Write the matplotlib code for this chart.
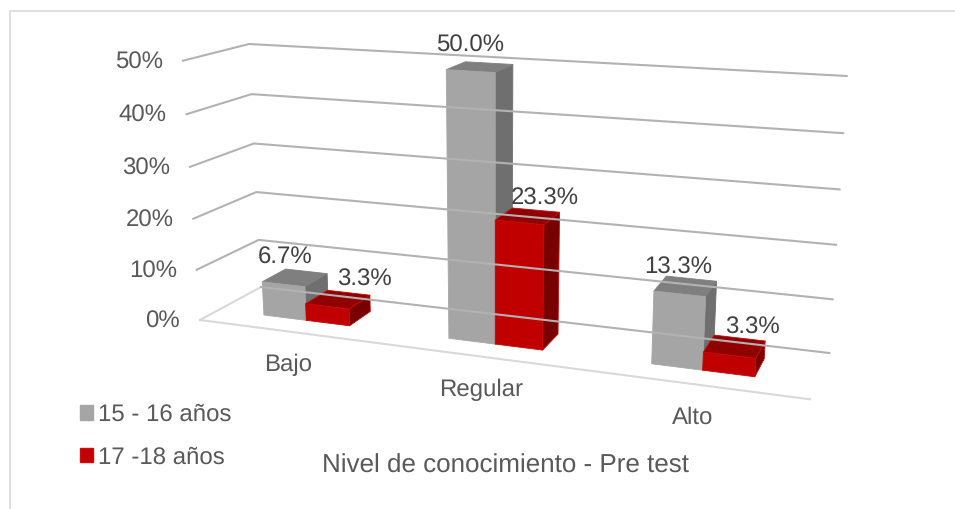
import matplotlib
matplotlib.use("Agg")
import matplotlib.pyplot as plt
from matplotlib.patches import Polygon, Patch
from matplotlib.lines import Line2D

plt.rcParams['font.family'] = ['Liberation Sans', 'DejaVu Sans']
plt.rcParams['text.hinting'] = 'no_hinting'
plt.rcParams['text.hinting_factor'] = 1

# Chart data (percent)
categories = ["Bajo", "Regular", "Alto"]
series_names = ["15 - 16 años", "17 -18 años"]
grupo_15_16 = [6.7, 50.0, 13.3]
grupo_17_18 = [3.3, 23.3, 3.3]
axis_ticks = [0, 10, 20, 30, 40, 50]
axis_max = 50
chart_title = "Nivel de conocimiento - Pre test"

# Screen positions of the 3D box corners: (across, depth, value top or bottom)
BOX = {
    (0, 0, 0): (200, 320), (0, 1, 0): (261, 287),
    (1, 1, 0): (829.3, 353), (1, 0, 0): (810, 399.3),
    (0, 0, 1): (183, 60.7), (0, 1, 1): (249, 44),
    (1, 1, 1): (846.7, 76), (1, 0, 1): (828, 100.3),
}
PERSP_X = 1.15    # foreshortening along the category axis
PERSP_V = 1.04    # foreshortening along the value axis
BAR_WIDTH = 0.079
BAR_FRONT, BAR_BACK = 0.32, 0.72
CAT_SHIFT = -0.003

TEXT = '#595959'
LABEL = '#404040'
GRID = '#B2B2B2'
FLOOR = '#D9D9D9'
FS = 17.05
GRAY_FACES = dict(front='#A5A5A5', top='#7F7F7F', side='#6F6F6F', edge=None)
RED_FACES = dict(front='#C00000', top='#900000', side='#770000', edge='#C80606')


def project(t, d, v):
    """Map category position t, depth d and value v to canvas pixels."""
    u = t / (PERSP_X - (PERSP_X - 1) * t)
    s = v / axis_max
    g = s / (PERSP_V - (PERSP_V - 1) * s)
    out = []
    for k in range(2):
        low = ((1 - d) * ((1 - u) * BOX[0, 0, 0][k] + u * BOX[1, 0, 0][k])
               + d * ((1 - u) * BOX[0, 1, 0][k] + u * BOX[1, 1, 0][k]))
        high = ((1 - d) * ((1 - u) * BOX[0, 0, 1][k] + u * BOX[1, 0, 1][k])
                + d * ((1 - u) * BOX[0, 1, 1][k] + u * BOX[1, 1, 1][k]))
        out.append(low + g * (high - low))
    return out


fig = plt.figure(figsize=(9.55, 5.09), dpi=100, facecolor='white')
ax = fig.add_axes([0, 0, 1, 1])
ax.set_xlim(0, 955)
ax.set_ylim(509, 0)
ax.axis('off')

# Chart area border, visible on the top and left
ax.add_line(Line2D([10, 10, 955], [509, 11, 11], color='#DCDCDC', lw=1.3))

# Floor edges
for a, b in [((0, 0), (1, 0)), ((0, 0), (0, 1))]:
    p, q = project(a[0], a[1], 0), project(b[0], b[1], 0)
    ax.add_line(Line2D([p[0], q[0]], [p[1], q[1]], color=FLOOR, lw=1.5))

# Gridlines on the side and back walls, with the value labels
for v in axis_ticks:
    a, b, c = project(0, 0, v), project(0, 1, v), project(1, 1, v)
    if v == 0:
        xs, ys = [b[0], c[0]], [b[1], c[1]]
    else:
        xs, ys = [a[0], b[0], c[0]], [a[1], b[1], c[1]]
    ax.add_line(Line2D(xs, ys, color=GRID, lw=1.5, solid_joinstyle='miter'))
    ax.text(a[0] - 20, a[1] + 1.5, f"{v}%", ha='right', va='center',
            fontsize=FS, color=TEXT)


def draw_bar(t0, t1, value, faces):
    fl, fr = project(t0, BAR_FRONT, 0), project(t1, BAR_FRONT, 0)
    tfl, tfr = project(t0, BAR_FRONT, value), project(t1, BAR_FRONT, value)
    tbl, tbr = project(t0, BAR_BACK, value), project(t1, BAR_BACK, value)
    br = project(t1, BAR_BACK, 0)
    for pts, col in [([fr, br, tbr, tfr], faces['side']),
                     ([tfl, tfr, tbr, tbl], faces['top']),
                     ([fl, fr, tfr, tfl], faces['front'])]:
        ax.add_patch(Polygon(pts, closed=True, facecolor=col,
                             edgecolor=faces['edge'] or col,
                             lw=0.6, joinstyle='round'))


# Label offsets from the centre of each bar's top face
label_shift_gray = [(-10, -20), (-10, -22), (-7, -19)]
label_shift_red = [(26, -20), (17, -18), (18, -19)]

for i, name in enumerate(categories):
    mid = (i + 0.5) / len(categories) + CAT_SHIFT
    for t0, t1, val, faces, shift in [
        (mid - BAR_WIDTH, mid, grupo_15_16[i], GRAY_FACES, label_shift_gray[i]),
        (mid, mid + BAR_WIDTH, grupo_17_18[i], RED_FACES, label_shift_red[i]),
    ]:
        draw_bar(t0, t1, val, faces)
        c = project((t0 + t1) / 2, (BAR_FRONT + BAR_BACK) / 2, val)
        ax.text(c[0] + shift[0], c[1] + shift[1], f"{val:.1f}%", ha='center',
                va='center', fontsize=FS, color=LABEL)
    base = project(mid, 0, 0)
    ax.text(base[0] - 1, base[1] + 33.5, name, ha='center', va='center',
            fontsize=FS, color=TEXT)

ax.text(505, 466, chart_title, ha='center', va='center', fontsize=19.05, color=TEXT)

handles = [Patch(facecolor='#A5A5A5', edgecolor='#A5A5A5', label=series_names[0]),
           Patch(facecolor='#C00000', edgecolor='#D20A0A', label=series_names[1])]
leg = ax.legend(handles=handles, loc='upper left',
                bbox_to_anchor=(80 / 955, 1 - 403.5 / 509), frameon=False,
                fontsize=FS, labelcolor=TEXT, handlelength=0.55, handleheight=0.55,
                handletextpad=0.22, labelspacing=0.85, borderpad=0, borderaxespad=0)

fig.savefig('out.png', dpi=100, facecolor='white')
